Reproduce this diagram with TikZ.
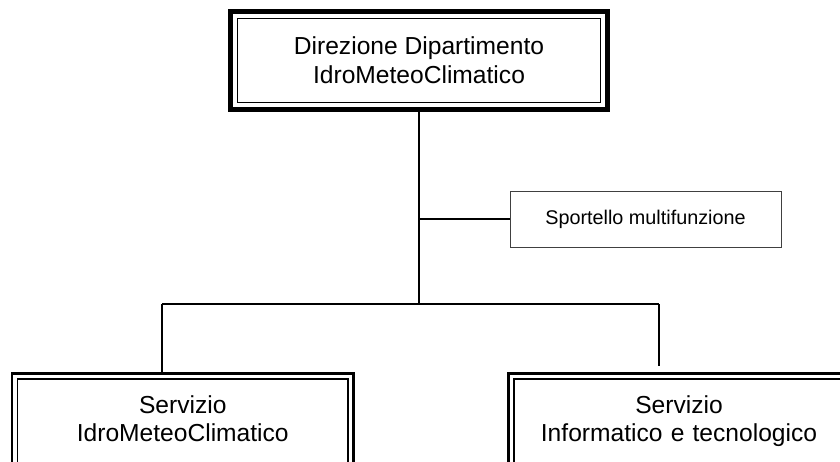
\documentclass[tikz,border=0pt]{standalone}
\usepackage{fontspec}
\setmainfont{Liberation Sans}
\usetikzlibrary{fit,positioning}

\tikzset{
  head/.style={draw, line width=0.5pt, outer sep=0pt, minimum width=181.5pt, minimum height=42pt,
    align=center, font=\fontsize{12.3}{14.5}\selectfont},
  headframe/.style={draw, line width=2.5pt, inner sep=3.5pt},
  unit/.style={draw, line width=0.9pt, outer sep=0pt, minimum width=165.25pt, text width=155pt,
    align=center, inner ysep=4pt, text height=13pt, text depth=45pt, font=\fontsize{12.3}{14}\selectfont},
  unitframe/.style={draw, line width=1.4pt, inner sep=2.75pt},
  desk/.style={draw=black!75, line width=0.5pt, minimum width=135.5pt, minimum height=28pt,
    font=\fontsize{9.9}{12}\selectfont},
  link/.style={line width=1pt}
}

\begin{document}
\begin{tikzpicture}[x=0.5pt, y=-0.5pt]
				\useasboundingbox (0,0) rectangle (840,461);
				\clip (0,0) rectangle (840,461);
				
				% direzione
				\node[head] (dir) at (419,60) {Direzione Dipartimento\\IdroMeteoClimatico};
				\node[headframe, fit=(dir)] (dirframe) {};
				
				% sportello
				\node[desk] (spo) at (645.5,219) {Sportello multifunzione};
				
				% servizi
				\node[unit, anchor=north] (srvimc) at (182.75,379) {Servizio\\IdroMeteoClimatico};
				\node[unitframe, fit=(srvimc)] (srvimcframe) {};
				\node[unit, anchor=north] (srvinf) at (679,379) {Servizio\\Informatico e tecnologico};
				\node[unitframe, fit=(srvinf)] (srvinfframe) {};
				
				% connectors
				\coordinate (hub) at (dirframe.south |- 0,304);
				\coordinate (lft) at (162,304);
				\coordinate (rgt) at (659,304);
				\draw[link] (dirframe.south) -- (hub);
				\draw[link] (dirframe.south |- spo.west) -- (spo.west);
				\draw[link] (lft) -- (rgt);
				\draw[link] (lft) -- (lft |- srvimcframe.north);
				\draw[link, shorten >=3pt] (rgt) -- (rgt |- srvinfframe.north);
				
\end{tikzpicture}
\end{document}
